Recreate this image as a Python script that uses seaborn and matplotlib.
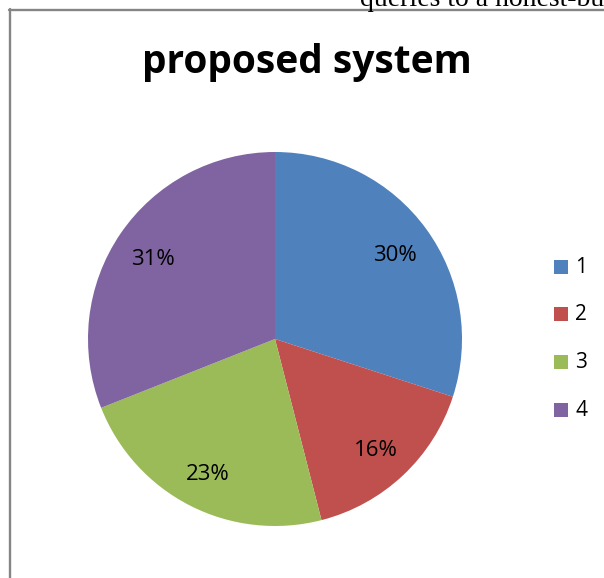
import matplotlib
matplotlib.use("Agg")
import matplotlib.pyplot as plt
import seaborn as sns
from matplotlib.patches import Rectangle
from matplotlib.lines import Line2D

sns.set_style("white")
plt.rcParams['font.family'] = ['Open Sans', 'DejaVu Sans']

categories = ["1", "2", "3", "4"]
values = [30, 16, 23, 31]
colors = sns.color_palette(["#4F81BD", "#C0504D", "#9BBB59", "#8064A2"])
title = "proposed system"
top_text = "queries to a honest-but"

W, H = 604, 578
fig = plt.figure(figsize=(W / 100, H / 100), dpi=100)
fig.patch.set_facecolor("white")

# frame lines
fig.add_artist(Line2D([9.5 / W, 9.5 / W], [0, 1 - 9 / H], color="#858585", lw=1.7, transform=fig.transFigure))
fig.add_artist(Line2D([9 / W, 1], [1 - 9.5 / H, 1 - 9.5 / H], color="#858585", lw=1.7, transform=fig.transFigure))

# cut-off text at top
fig.text(360 / W, 1 - 6 / H, top_text, family="Liberation Serif", fontsize=20, va="baseline", ha="left", color="black")

# pie
cx, cy, r = 275, 339, 187
ax = fig.add_axes([(cx - r) / W, (H - cy - r) / H, 2 * r / W, 2 * r / H])
wedges, texts, autotexts = ax.pie(
    values, colors=colors, startangle=90, counterclock=False,
    autopct=lambda p: f"{p:.0f}%", pctdistance=0.79,
    wedgeprops=dict(linewidth=0), textprops=dict(fontsize=16, color="black"),
    radius=1.0,
)
for t in autotexts:
    x, y = t.get_position()
    t.set_position((x, y - 0.02))
ax.set_xlim(-1, 1)
ax.set_ylim(-1, 1)
ax.set_axis_off()

fig.text(307 / W, 1 - 62 / H, title, fontsize=28, fontweight="bold", ha="center", va="center", color="black")

# legend
leg_y = [267, 314, 362, 410]
for cat, col, y in zip(categories, colors, leg_y):
    fig.add_artist(Rectangle((554 / W, 1 - (y + 7) / H), 14 / W, 14 / H, facecolor=col, edgecolor="none", transform=fig.transFigure))
    fig.text(575 / W, 1 - y / H, cat, fontsize=15, ha="left", va="center", color="black")

fig.savefig("out.png", dpi=100, facecolor="white")
